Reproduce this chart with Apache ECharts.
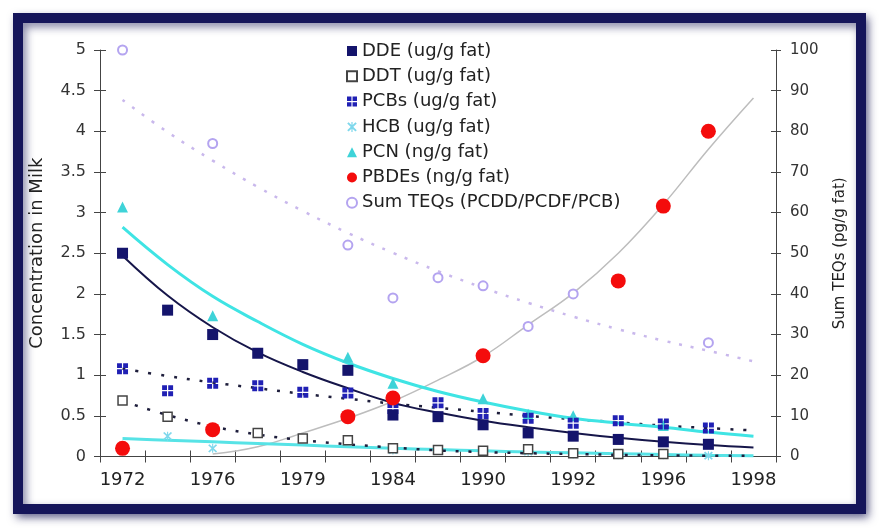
<!DOCTYPE html>
<html>
<head>
<meta charset="utf-8">
<script src="https://cdn.jsdelivr.net/npm/echarts@6/dist/echarts.min.js"></script>
<style>html,body{margin:0;padding:0;background:#fff;}#c{width:879px;height:530px;}</style>
</head>
<body>
<div id="c"></div>
<script>
// Categories (only even indices are labelled)
const categories = ['1972','1974','1976','1978','1979','1981','1984','1986','1990','1991','1992','1994','1996','1997','1998'];
const leftTicks = [0, 0.5, 1, 1.5, 2, 2.5, 3, 3.5, 4, 4.5, 5];
const rightTicks = [0, 10, 20, 30, 40, 50, 60, 70, 80, 90, 100];

// Measured points
const dde  = [2.5, 1.8, 1.5, 1.27, 1.13, 1.06, 0.51, 0.49, 0.39, 0.29, 0.25, 0.21, 0.18, 0.15, null];
const ddt  = [0.69, 0.49, null, 0.29, 0.22, 0.2, 0.1, 0.08, 0.07, 0.09, 0.04, 0.03, 0.03, null, null];
const pcbs = [1.08, 0.81, 0.9, 0.87, 0.79, 0.78, 0.59, 0.66, 0.53, 0.47, 0.41, 0.44, 0.4, 0.35, null];
const hcb  = [null, 0.25, 0.1, null, null, null, 0.08, null, 0.07, 0.06, 0.03, 0.02, 0.02, 0.01, null];
const pcn  = [3.07, null, 1.73, null, null, 1.22, 0.9, null, 0.71, 0.52, 0.5, null, 0.38, null, null];
const pbde = [0.1, null, 0.33, null, null, 0.49, 0.72, null, 1.24, null, null, 2.16, 3.08, 4.0, null];
const teq  = [100, null, 77, null, null, 52, 39, 44, 42, 32, 40, null, null, 28, null];

// Trend lines
const ddeTrend  = [2.47, 1.98, 1.59, 1.28, 1.04, 0.84, 0.66, 0.54, 0.44, 0.36, 0.29, 0.23, 0.18, 0.14, 0.11];
const ddtTrend  = [0.68, 0.51, 0.37, 0.27, 0.2, 0.15, 0.11, 0.075, 0.055, 0.04, 0.03, 0.02, 0.015, 0.01, 0.008];
const pcbTrend  = [1.08, 0.99, 0.91, 0.84, 0.77, 0.71, 0.65, 0.6, 0.55, 0.5, 0.46, 0.42, 0.38, 0.35, 0.32];
const hcbTrend  = [0.22, 0.2, 0.18, 0.16, 0.14, 0.12, 0.1, 0.085, 0.07, 0.055, 0.045, 0.035, 0.025, 0.015, 0.01];
const pcnTrend  = [2.82, 2.36, 1.97, 1.66, 1.38, 1.15, 0.96, 0.8, 0.67, 0.56, 0.47, 0.41, 0.36, 0.3, 0.25];
const pbdeTrend = [null, null, 0.03, 0.12, 0.29, 0.47, 0.68, 0.94, 1.23, 1.62, 2.01, 2.5, 3.1, 3.78, 4.41];
const teqTrend  = [87.7, 79.8, 72.8, 66.3, 60.4, 55, 50.1, 45.6, 41.5, 37.8, 34.4, 31.3, 28.5, 26, 23.4];

const names = ['DDE (ug/g fat)','DDT (ug/g fat)','PCBs (ug/g fat)','HCB (ug/g fat)','PCN (ng/g fat)','PBDEs (ng/g fat)','Sum TEQs (PCDD/PCDF/PCB)'];

const FONT = 'DejaVu Sans';
const AX = '#444';
const pcbPath = 'path://M0,0h4v4h-4z M5,0h4v4h-4z M0,5h4v4h-4z M5,5h4v4h-4z';
const starPath = 'path://M4.4,0h1.2v10h-1.2z M0.2,1.6L1.6,0.4L9.8,8.4L8.4,9.6z M0.2,8.4L8.4,0.4L9.8,1.6L1.6,9.6z';

function trend(name, data, color, width, dash, yIdx) {
  return {
    name: name, type: 'line', data: data, yAxisIndex: yIdx || 0,
    symbol: 'none', smooth: 0.4, connectNulls: true, silent: true, z: 1,
    lineStyle: { color: color, width: width, type: dash || 'solid' }
  };
}
function pts(name, data, symbol, size, style, yIdx, z) {
  style.opacity = 1;
  return {
    name: name, type: 'scatter', data: data, yAxisIndex: yIdx || 0,
    symbol: symbol, symbolSize: size, itemStyle: style, z: z || 3
  };
}

const chart = echarts.init(document.getElementById('c'), null, { renderer: 'canvas' });
const yLabel = { fontFamily: FONT, fontSize: 16, color: '#333', margin: 14 };
const option = {
  animation: false,
  graphic: [{
    type: 'rect', z: -10, silent: true,
    shape: { x: 18, y: 18, width: 843, height: 491 },
    style: { fill: '#fff', stroke: '#15155a', lineWidth: 10,
      shadowBlur: 8, shadowColor: 'rgba(30,30,90,0.55)', shadowOffsetX: 3, shadowOffsetY: 4 }
  }],
  grid: { left: 100, top: 50, width: 676, height: 406.5, containLabel: false },
  legend: {
    orient: 'vertical', left: 341, top: 37, itemWidth: 10, itemHeight: 10, itemGap: 7.3,
    textStyle: { fontFamily: FONT, fontSize: 18, color: '#222', lineHeight: 18 },
    data: names
  },
  xAxis: [{
    type: 'category', data: categories, boundaryGap: true,
    axisLine: { lineStyle: { color: AX, width: 1 } },
    axisTick: { show: true, interval: 0, length: 6, lineStyle: { color: AX } },
    axisLabel: { interval: 1, fontFamily: FONT, fontSize: 18, color: '#222', margin: 15 },
    splitLine: { show: false }
  }, {
    type: 'category', data: categories, boundaryGap: true, position: 'bottom',
    axisLine: { show: false },
    axisTick: { show: true, inside: true, interval: 0, length: 6, lineStyle: { color: AX } },
    axisLabel: { show: false }, splitLine: { show: false }
  }],
  yAxis: [{
    type: 'value', position: 'left', min: leftTicks[0], max: leftTicks[leftTicks.length - 1], interval: 0.5,
    name: 'Concentration in Milk', nameLocation: 'middle', nameGap: 54,
    nameTextStyle: { fontFamily: FONT, fontSize: 18, color: '#222' },
    axisLine: { show: true, lineStyle: { color: AX } },
    axisTick: { show: true, length: 6, lineStyle: { color: AX } },
    axisLabel: yLabel, splitLine: { show: false }
  }, {
    type: 'value', position: 'right', min: rightTicks[0], max: rightTicks[rightTicks.length - 1], interval: 10,
    name: 'Sum TEQs (pg/g fat)', nameLocation: 'middle', nameGap: 57, nameRotate: 90,
    nameTextStyle: { fontFamily: FONT, fontSize: 15, color: '#222' },
    axisLine: { show: true, lineStyle: { color: AX } },
    axisTick: { show: true, length: 5, lineStyle: { color: AX } },
    axisLabel: { fontFamily: FONT, fontSize: 15, color: '#333', margin: 14 }, splitLine: { show: false }
  }, {
    type: 'value', position: 'left', min: 0, max: 5, interval: 0.5,
    axisLine: { show: false }, axisTick: { show: true, inside: true, length: 6, lineStyle: { color: AX } },
    axisLabel: { show: false }, splitLine: { show: false }
  }, {
    type: 'value', position: 'right', min: 0, max: 100, interval: 10,
    axisLine: { show: false }, axisTick: { show: true, inside: true, length: 5, lineStyle: { color: AX } },
    axisLabel: { show: false }, splitLine: { show: false }
  }],
  series: [
    trend('TEQ trend', teqTrend, '#c9b8ec', 2.5, [3, 9], 1),
    trend('PBDE trend', pbdeTrend, '#bdbdbd', 1.5),
    trend('HCB trend', hcbTrend, '#57e3e6', 3),
    trend('DDT trend', ddtTrend, '#1e1e3c', 2.5, [3, 10]),
    trend('PCB trend', pcbTrend, '#1e1e3c', 2.5, [3, 10]),
    trend('PCN trend', pcnTrend, '#3fe4e4', 3),
    trend('DDE trend', ddeTrend, '#16164a', 2),
    pts(names[6], teq, 'circle', 9, { color: '#fff', borderColor: '#b4a4f0', borderWidth: 2 }, 1),
    pts(names[3], hcb, starPath, 9, { color: '#7fd8ec' }),
    pts(names[1], ddt, 'rect', 9, { color: '#fff', borderColor: '#444', borderWidth: 1.5 }),
    pts(names[4], pcn, 'triangle', 11, { color: '#3ed3d8' }),
    pts(names[2], pcbs, pcbPath, 11, { color: '#2020b4' }),
    pts(names[0], dde, 'rect', 11, { color: '#14146c' }),
    pts(names[5], pbde, 'circle', 15, { color: '#f40c0c' }, 0, 5)
  ]
};
chart.setOption(option);
</script>
</body>
</html>
